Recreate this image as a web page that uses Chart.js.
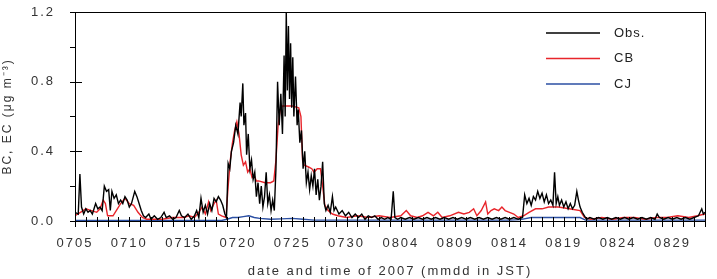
<!DOCTYPE html>
<html>
<head>
<meta charset="utf-8">
<script src="https://cdn.jsdelivr.net/npm/chart.js@4/dist/chart.umd.min.js"></script>
<style>
  html, body { margin: 0; padding: 0; background: #fff; }
  canvas { display: block; }
</style>
</head>
<body>
<canvas id="bcChart" width="717" height="279"></canvas>
<script>
// BC / EC time series, summer 2007. x = days since 07/05 00:00 JST.

const dayLabels = ["0705", "0710", "0715", "0720", "0725", "0730", "0804", "0809", "0814", "0819", "0824", "0829"];
const yTicks = [0, 0.4, 0.8, 1.2];
const seriesNames = ["Obs.", "CB", "CJ"];

// observed BC (black)
const obsDays = [
  0, 0.3, 0.45, 0.6, 0.8, 1.0, 1.2, 1.4, 1.6, 1.9, 2.1, 2.3, 2.5, 2.7, 2.9, 3.1, 3.25, 3.4, 3.6, 3.8,
  4.0, 4.2, 4.4, 4.6, 4.8, 5.0, 5.2, 5.5, 5.7, 5.9, 6.1, 6.3, 6.5, 6.8, 7.0, 7.3, 7.6, 7.9, 8.2, 8.4,
  8.7, 9.0, 9.3, 9.6, 9.8, 10.1, 10.4, 10.7, 11.0, 11.2, 11.4, 11.6, 11.8, 12.0, 12.2, 12.4, 12.6, 12.8, 13.0, 13.2,
  13.4, 13.6, 13.8, 13.95, 14.1, 14.25, 14.4, 14.6, 14.8, 15.0, 15.2, 15.3, 15.45, 15.55, 15.7, 15.8, 15.95, 16.1, 16.25, 16.4,
  16.55, 16.7, 16.85, 17.0, 17.15, 17.3, 17.45, 17.6, 17.75, 17.9, 18.05, 18.2, 18.35, 18.5, 18.65, 18.8, 18.95, 19.1, 19.25, 19.35,
  19.45, 19.55, 19.65, 19.75, 19.85, 19.95, 20.05, 20.15, 20.3, 20.45, 20.55, 20.7, 20.85, 21.0, 21.15, 21.3, 21.45, 21.6, 21.75, 21.9,
  22.05, 22.2, 22.35, 22.5, 22.65, 22.8, 22.95, 23.1, 23.3, 23.5, 23.7, 23.85, 24.0, 24.3, 24.6, 24.9, 25.2, 25.5, 25.8, 26.1,
  26.4, 26.7, 27.0, 27.3, 27.6, 27.9, 28.2, 28.5, 28.8, 29.1, 29.3, 29.45, 29.7, 30.0, 30.4, 30.8, 31.2, 31.6, 32.0, 32.4,
  32.8, 33.2, 33.6, 34.0, 34.4, 34.8, 35.2, 35.6, 36.0, 36.4, 36.8, 37.2, 37.6, 38.0, 38.4, 38.8, 39.2, 39.6, 40.0, 40.4,
  40.8, 41.2, 41.4, 41.6, 41.8, 42.0, 42.2, 42.4, 42.6, 42.8, 43.0, 43.2, 43.4, 43.6, 43.8, 44.0, 44.15, 44.3, 44.45, 44.6,
  44.8, 45.0, 45.2, 45.4, 45.6, 45.8, 46.0, 46.2, 46.35, 46.5, 46.7, 46.9, 47.1, 47.4, 47.8, 48.2, 48.6, 49.0, 49.4, 49.8,
  50.2, 50.6, 51.0, 51.4, 51.8, 52.2, 52.6, 53.0, 53.4, 53.6, 53.8, 54.2, 54.6, 55.0, 55.4, 55.8, 56.2, 56.6, 57.0, 57.4,
  57.7, 57.85, 58
];
const obsValues = [
  0.05, 0.04, 0.27, 0.08, 0.04, 0.07, 0.05, 0.06, 0.04, 0.10, 0.07, 0.08, 0.06, 0.20, 0.17, 0.18, 0.06, 0.17, 0.13, 0.15,
  0.10, 0.12, 0.10, 0.14, 0.12, 0.08, 0.10, 0.17, 0.14, 0.10, 0.06, 0.03, 0.02, 0.04, 0.01, 0.03, 0.01, 0.02, 0.05, 0.02,
  0.03, 0.01, 0.02, 0.06, 0.03, 0.02, 0.04, 0.01, 0.03, 0.06, 0.02, 0.13, 0.05, 0.09, 0.04, 0.10, 0.06, 0.13, 0.11, 0.14,
  0.12, 0.09, 0.04, 0.02, 0.33, 0.30, 0.40, 0.45, 0.55, 0.50, 0.68, 0.60, 0.79, 0.55, 0.62, 0.38, 0.50, 0.30, 0.35, 0.24,
  0.28, 0.14, 0.22, 0.10, 0.20, 0.08, 0.14, 0.28, 0.10, 0.15, 0.06, 0.12, 0.06, 0.30, 0.80, 0.55, 0.73, 0.50, 0.95, 0.60,
  1.20, 0.75, 1.12, 0.70, 1.02, 0.65, 0.94, 0.60, 0.83, 0.55, 0.64, 0.45, 0.52, 0.30, 0.40, 0.22, 0.28, 0.18, 0.26, 0.20,
  0.30, 0.15, 0.24, 0.12, 0.20, 0.34, 0.10, 0.06, 0.09, 0.05, 0.14, 0.06, 0.08, 0.04, 0.06, 0.03, 0.05, 0.02, 0.04, 0.02,
  0.04, 0.01, 0.03, 0.02, 0.03, 0.01, 0.02, 0.01, 0.02, 0.01, 0.17, 0.02, 0.01, 0.02, 0.01, 0.02, 0.01, 0.02, 0.01, 0.02,
  0.01, 0.02, 0.01, 0.02, 0.01, 0.02, 0.01, 0.02, 0.01, 0.02, 0.01, 0.02, 0.01, 0.02, 0.01, 0.02, 0.01, 0.02, 0.01, 0.02,
  0.01, 0.02, 0.15, 0.10, 0.13, 0.09, 0.14, 0.12, 0.17, 0.13, 0.16, 0.11, 0.15, 0.10, 0.12, 0.09, 0.28, 0.10, 0.14, 0.09,
  0.12, 0.08, 0.11, 0.07, 0.10, 0.07, 0.09, 0.17, 0.12, 0.08, 0.05, 0.03, 0.01, 0.02, 0.01, 0.02, 0.01, 0.02, 0.01, 0.02,
  0.01, 0.02, 0.01, 0.02, 0.01, 0.02, 0.01, 0.02, 0.01, 0.04, 0.02, 0.01, 0.02, 0.01, 0.02, 0.01, 0.02, 0.01, 0.02, 0.03,
  0.07, 0.04, 0.05
];

// model CB (red)
const cbDays = [
  0, 0.5, 1.0, 1.5, 2.0, 2.3, 2.6, 2.8, 3.0, 3.5, 3.8, 4.2, 4.6, 5.0, 5.4, 5.8, 6.2, 6.6, 8.0, 9.0,
  10.0, 10.5, 11.0, 11.4, 11.7, 12.0, 12.3, 12.5, 12.8, 13.0, 13.2, 13.5, 13.9, 14.1, 14.3, 14.5, 14.7, 14.9, 15.1, 15.3,
  15.5, 15.7, 15.9, 16.1, 16.3, 16.5, 16.7, 16.9, 17.5, 18.0, 18.3, 18.5, 18.7, 18.9, 19.1, 20.0, 20.6, 20.8, 20.95, 21.1,
  21.5, 21.8, 22.0, 22.3, 22.6, 22.8, 23.0, 23.3, 23.7, 24.2, 25.0, 26.0, 27.0, 28.0, 29.0, 30.0, 30.5, 30.9, 31.5, 32.0,
  32.5, 33.0, 33.4, 33.8, 34.5, 35.3, 35.8, 36.3, 36.7, 37.0, 37.4, 37.8, 38.0, 38.3, 38.6, 39.0, 39.3, 39.6, 40.0, 40.4,
  40.8, 41.3, 41.8, 42.4, 43.0, 43.6, 44.5, 45.5, 46.5, 46.9, 47.5, 48.5, 49.5, 50.5, 51.5, 52.5, 53.5, 54.5, 55.5, 56.5,
  57.3, 58
];
const cbValues = [
  0.03, 0.05, 0.07, 0.06, 0.05, 0.07, 0.12, 0.10, 0.03, 0.03, 0.06, 0.10, 0.13, 0.10, 0.09, 0.05, 0.02, 0.01, 0.01, 0.02,
  0.02, 0.03, 0.02, 0.05, 0.08, 0.04, 0.11, 0.06, 0.10, 0.12, 0.04, 0.03, 0.02, 0.20, 0.35, 0.45, 0.52, 0.57, 0.50, 0.38,
  0.32, 0.34, 0.28, 0.30, 0.25, 0.26, 0.23, 0.23, 0.22, 0.22, 0.23, 0.35, 0.55, 0.64, 0.66, 0.66, 0.65, 0.60, 0.35, 0.32,
  0.31, 0.30, 0.28, 0.30, 0.30, 0.20, 0.09, 0.06, 0.04, 0.03, 0.02, 0.03, 0.02, 0.03, 0.02, 0.03, 0.06, 0.03, 0.02, 0.03,
  0.05, 0.03, 0.05, 0.02, 0.03, 0.05, 0.04, 0.05, 0.07, 0.03, 0.06, 0.11, 0.04, 0.06, 0.07, 0.06, 0.08, 0.06, 0.05, 0.04,
  0.02, 0.03, 0.05, 0.07, 0.07, 0.08, 0.08, 0.07, 0.06, 0.02, 0.01, 0.02, 0.01, 0.02, 0.02, 0.01, 0.02, 0.02, 0.03, 0.02,
  0.03, 0.04
];

// model CJ (blue)
const cjDays = [0, 13.5, 14.0, 14.5, 15.0, 15.5, 16.0, 16.5, 17.0, 18.0, 19.0, 20.0, 21.0, 22.0, 40.0, 41.0, 42.0, 46.5, 47.0, 58];
const cjValues = [0.003, 0.003, 0.01, 0.02, 0.02, 0.025, 0.03, 0.02, 0.015, 0.01, 0.012, 0.015, 0.01, 0.005, 0.005, 0.008, 0.02, 0.02, 0.005, 0.005];

const colors = ["#000000", "#e8252b", "#2b4fa3"];
const FONT = "'Liberation Sans', Arial, sans-serif";

function pts(days, vals) {
  return days.map((d, i) => ({ x: d, y: vals[i] }));
}

// frame, crossing tick marks and the legend are drawn by hand
const framePlugin = {
  id: "frame",
  beforeDraw(chart) {
    chart.ctx.letterSpacing = "2px";
  },
  afterDraw(chart) {
    const { ctx, chartArea: a, scales } = chart;
    ctx.save();
    ctx.strokeStyle = "#000";
    ctx.lineWidth = 1;
    ctx.strokeRect(a.left + 0.5, a.top + 0.5, a.right - a.left, a.bottom - a.top);

    ctx.beginPath();
    for (let d = 0; d <= 58; d++) {
      const x = Math.round(scales.x.getPixelForValue(d)) + 0.5;
      ctx.moveTo(x, a.bottom - 4);
      ctx.lineTo(x, a.bottom + 6);
    }
    for (let v = 0; v <= 1.2001; v += 0.2) {
      const y = Math.round(scales.y.getPixelForValue(v)) + 0.5;
      const major = Math.abs(v / 0.4 - Math.round(v / 0.4)) < 1e-6;
      ctx.moveTo(a.left - 5, y);
      ctx.lineTo(major ? a.left + 7 : a.left, y);
    }
    ctx.stroke();

    // legend
    ctx.font = "13px " + FONT;
    ctx.letterSpacing = "1px";
    ctx.textBaseline = "middle";
    ctx.fillStyle = "#222";
    chart.data.datasets.forEach((ds, i) => {
      const y = 33 + i * 25.5;
      ctx.strokeStyle = ds.borderColor;
      ctx.lineWidth = 1.5;
      ctx.beginPath();
      ctx.moveTo(546, y);
      ctx.lineTo(600, y);
      ctx.stroke();
      ctx.fillText(ds.label, 614, y);
    });
    ctx.restore();
  }
};

new Chart(document.getElementById("bcChart"), {
  type: "line",
  data: {
    datasets: [
      { label: seriesNames[0], data: pts(obsDays, obsValues), borderColor: colors[0], borderWidth: 1.4 },
      { label: seriesNames[1], data: pts(cbDays, cbValues), borderColor: colors[1], borderWidth: 1.4 },
      { label: seriesNames[2], data: pts(cjDays, cjValues), borderColor: colors[2], borderWidth: 1.4 }
    ]
  },
  options: {
    responsive: false,
    animation: false,
    devicePixelRatio: 1,
    layout: { padding: { top: 12, right: 12, left: 0, bottom: 0 } },
    elements: { point: { radius: 0 }, line: { tension: 0 } },
    plugins: { legend: { display: false }, tooltip: { enabled: false } },
    scales: {
      x: {
        type: "linear",
        min: 0,
        max: 58,
        afterFit: (s) => { s.height = 58; s.paddingLeft = 0; s.paddingRight = 0; },
        afterBuildTicks: (s) => { s.ticks = dayLabels.map((_, i) => ({ value: i * 5 })); },
        grid: { display: false, drawTicks: false },
        border: { display: false },
        ticks: {
          autoSkip: false,
          maxRotation: 0,
          padding: 15,
          color: "#333",
          font: { family: FONT, size: 13 },
          callback: (v) => dayLabels[Math.round(v / 5)]
        },
        title: {
          display: true,
          text: "date and time of 2007 (mmdd in JST)",
          color: "#333",
          font: { family: FONT, size: 13 },
          padding: { top: 2, bottom: 0 }
        }
      },
      y: {
        min: 0,
        max: 1.2,
        afterFit: (s) => { s.width = 75; s.paddingTop = 0; s.paddingBottom = 0; },
        afterBuildTicks: (s) => { s.ticks = yTicks.map((v) => ({ value: v })); },
        grid: { display: false, drawTicks: false },
        border: { display: false },
        ticks: {
          padding: 20,
          color: "#333",
          font: { family: FONT, size: 13 },
          callback: (v) => v.toFixed(1)
        },
        title: {
          display: true,
          text: "BC, EC (μg m⁻³)",
          color: "#333",
          font: { family: FONT, size: 12 },
          padding: { top: 0, bottom: 0 }
        }
      }
    }
  },
  plugins: [framePlugin]
});
</script>
</body>
</html>
